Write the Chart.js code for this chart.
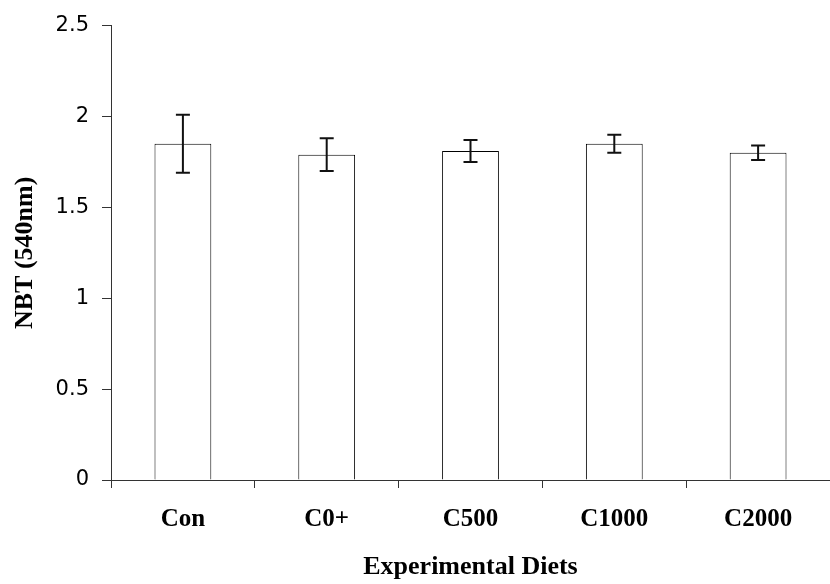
<!DOCTYPE html>
<html>
<head>
<meta charset="utf-8">
<script src="https://cdn.jsdelivr.net/npm/chart.js@4"></script>
<style>
  html, body { margin: 0; padding: 0; background: #fff; }
  #wrap { width: 830px; height: 584px; overflow: hidden; }
</style>
</head>
<body>
<div id="wrap"><canvas id="myChart" width="830" height="584"></canvas></div>
<script>
const diets = ['Con', 'C0+', 'C500', 'C1000', 'C2000'];   // x-axis categories
const nbt = [1.85, 1.79, 1.81, 1.85, 1.80];                 // mean NBT values
const nbtErr = [0.16, 0.09, 0.06, 0.05, 0.04];              // +/- error bar size
const yTicks = [0, 0.5, 1, 1.5, 2, 2.5];                    // y-axis tick labels

// draws the error bars using the bar positions and the y scale
const errorBars = {
  id: 'errorBars',
  afterDatasetsDraw(chart) {
    const ctx = chart.ctx;
    const yScale = chart.scales.y;
    const meta = chart.getDatasetMeta(0);
    ctx.save();
    ctx.strokeStyle = '#111';
    ctx.lineWidth = 2;
    meta.data.forEach((bar, i) => {
      const top = yScale.getPixelForValue(nbt[i] + nbtErr[i]);
      const bottom = yScale.getPixelForValue(nbt[i] - nbtErr[i]);
      const cap = 7;
      ctx.beginPath();
      ctx.moveTo(bar.x, top);
      ctx.lineTo(bar.x, bottom);
      ctx.moveTo(bar.x - cap, top);
      ctx.lineTo(bar.x + cap, top);
      ctx.moveTo(bar.x - cap, bottom);
      ctx.lineTo(bar.x + cap, bottom);
      ctx.stroke();
    });
    ctx.restore();
  }
};

const ctx = document.getElementById('myChart');
const myChart = new Chart(ctx, {
  type: 'bar',
  data: {
    labels: diets,
    datasets: [{
      data: nbt,
      backgroundColor: '#ffffff',
      borderColor: '#000',
      borderWidth: 1,
      categoryPercentage: 1,
      barPercentage: 0.395
    }]
  },
  options: {
    responsive: false,
    animation: false,
    devicePixelRatio: 1,
    layout: {
      padding: { top: 18, right: -6, bottom: 0, left: 0 }
    },
    scales: {
      x: {
        afterFit: (scale) => { scale.height = 104; },
        grid: {
          display: true,
          drawOnChartArea: false,
          drawTicks: true,
          tickLength: 8,
          color: '#333'
        },
        border: { display: true, color: '#333', width: 1 },
        ticks: {
          color: '#000',
          padding: 17,
          font: { family: '"Liberation Serif", "Times New Roman", serif', size: 25, weight: 'bold' }
        },
        title: {
          display: true,
          text: 'Experimental Diets',
          color: '#000',
          padding: { top: 0, bottom: 1 },
          font: { family: '"Liberation Serif", "Times New Roman", serif', size: 26, weight: 'bold' }
        }
      },
      y: {
        min: 0,
        max: 2.5,
        afterFit: (scale) => { scale.width = 111; },
        afterBuildTicks: (scale) => { scale.ticks = yTicks.map(v => ({ value: v })); },
        grid: {
          display: true,
          drawOnChartArea: false,
          drawTicks: true,
          tickLength: 9,
          color: '#333'
        },
        border: { display: true, color: '#333', width: 1 },
        ticks: {
          color: '#000',
          padding: 13,
          callback: (val) => String(val),
          font: { family: '"DejaVu Sans", Verdana, sans-serif', size: 21 }
        },
        title: {
          display: true,
          text: 'NBT (540nm)',
          color: '#000',
          padding: { top: 10, bottom: 0 },
          font: { family: '"Liberation Serif", "Times New Roman", serif', size: 26, weight: 'bold' }
        }
      }
    },
    plugins: {
      legend: { display: false },
      tooltip: { enabled: false }
    }
  },
  plugins: [errorBars]
});
</script>
</body>
</html>
